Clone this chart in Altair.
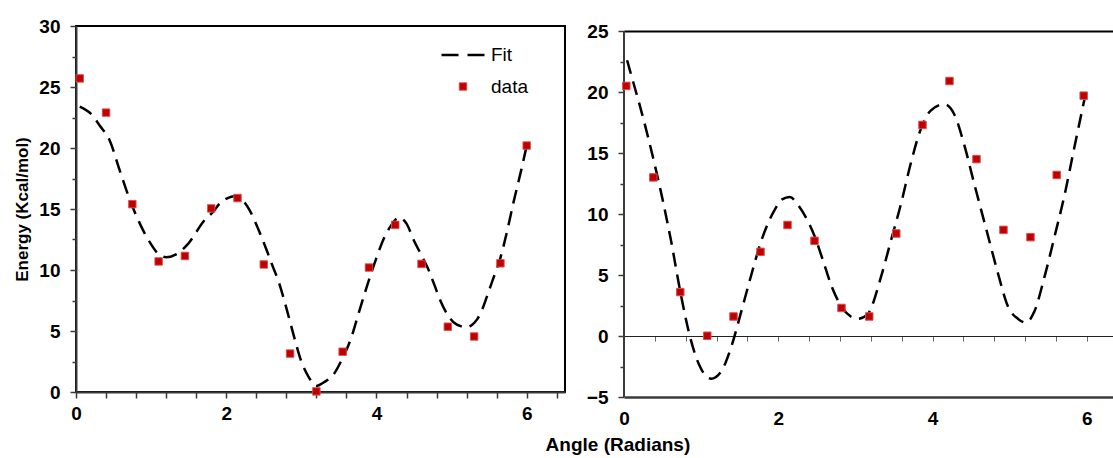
import altair as alt
import pandas as pd

# ---------------- data ----------------
angles_left = [0.05, 0.40, 0.75, 1.10, 1.45, 1.80, 2.15, 2.50, 2.85, 3.20, 3.55, 3.90, 4.25, 4.60, 4.95, 5.30, 5.65, 6.00]
energy_left = [25.7, 22.9, 15.4, 10.7, 11.15, 15.05, 15.9, 10.45, 3.15, 0.05, 3.3, 10.2, 13.7, 10.5, 5.35, 4.55, 10.55, 20.2]

fit_left_x = [0.05, 0.2, 0.32, 0.45, 0.58, 0.72, 0.85, 0.98, 1.1, 1.2, 1.34, 1.5, 1.7, 1.83, 1.92, 2.02, 2.1, 2.22, 2.32, 2.43,
              2.54, 2.6, 2.7, 2.8, 2.9, 3.0, 3.1, 3.2, 3.3, 3.43, 3.55, 3.65, 3.77, 3.88, 4.0, 4.1, 4.2, 4.3, 4.4, 4.5,
              4.6, 4.68, 4.77, 4.85, 4.95, 5.03, 5.12, 5.19, 5.27, 5.34, 5.41, 5.48, 5.56, 5.65, 5.74, 5.83, 5.92, 6.0]
fit_left_y = [23.4, 22.8, 21.8, 20.6, 18.2, 15.7, 13.8, 12.3, 11.3, 11.05, 11.3, 12.2, 14.0, 14.8, 15.5, 15.9, 16.05, 15.7, 14.8, 13.3,
              11.6, 10.6, 9.0, 6.9, 4.6, 2.5, 1.2, 0.5, 0.8, 1.45, 2.8, 4.2, 6.6, 8.8, 11.0, 12.6, 13.7, 14.3, 13.8, 12.4,
              11.2, 10.2, 8.8, 7.5, 6.3, 5.7, 5.4, 5.3, 5.5, 5.95, 6.8, 8.0, 9.4, 11.0, 13.2, 15.7, 18.0, 20.2]

angles_right = [0.03, 0.38, 0.73, 1.08, 1.42, 1.77, 2.12, 2.47, 2.82, 3.18, 3.53, 3.87, 4.22, 4.57, 4.92, 5.27, 5.61, 5.96]
energy_right = [20.5, 13.0, 3.6, 0.02, 1.6, 6.9, 9.1, 7.8, 2.3, 1.6, 8.4, 17.3, 20.9, 14.5, 8.7, 8.1, 13.2, 19.7]

fit_right_x = [0.04, 0.12, 0.2, 0.3, 0.4, 0.5, 0.61, 0.74, 0.87, 1.0, 1.13, 1.26, 1.39, 1.52, 1.65, 1.78, 1.95, 2.05, 2.15, 2.25,
               2.36, 2.47, 2.58, 2.69, 2.82, 2.94, 3.03, 3.16, 3.33, 3.46, 3.59, 3.72, 3.85, 3.98, 4.15, 4.28, 4.41, 4.54, 4.72, 4.85,
               4.98, 5.11, 5.21, 5.32, 5.45, 5.58, 5.71, 5.84, 5.97]
fit_right_y = [22.6, 20.8, 19.0, 16.6, 14.0, 11.2, 7.8, 3.3, -0.4, -2.7, -3.5, -2.9, -0.9, 2.0, 5.0, 7.8, 10.3, 11.2, 11.4, 10.8,
               9.7, 8.2, 6.2, 4.1, 2.4, 1.6, 1.4, 1.8, 4.8, 7.8, 10.8, 14.2, 17.0, 18.5, 19.0, 18.2, 15.7, 12.5, 8.2, 5.1,
               2.4, 1.4, 1.1, 2.0, 4.8, 8.1, 11.5, 15.5, 19.4]

series_names = ["Fit", "data"]
x_major = [0, 2, 4, 6]
x_minor_left = [0.4, 0.8, 1.2, 1.6, 2.4, 2.8, 3.2, 3.6, 4.4, 4.8, 5.2, 5.6, 6.4]
x_ticks_zero = [0.4, 0.8, 1.2, 1.6, 2, 2.4, 2.8, 3.2, 3.6, 4, 4.4, 4.8, 5.2, 5.6, 6]
y_major_left = [0, 5, 10, 15, 20, 25, 30]
y_minor_left = [2.5, 7.5, 12.5, 17.5, 22.5, 27.5]
y_major_right = [-5, 0, 5, 10, 15, 20, 25]
y_minor_right = [-2.5, 2.5, 7.5, 12.5, 17.5, 22.5]
y_range_right = [-5, 25]

FONT = "Liberation Sans"
RED = "#c00000"
AX = "#3a3a3a"

df_pl = pd.DataFrame({"angle": angles_left, "energy": energy_left, "series": "data"})
df_fl = pd.DataFrame({"angle": fit_left_x, "energy": fit_left_y})
df_pr = pd.DataFrame({"angle": angles_right, "energy": energy_right, "series": "data"})
df_fr = pd.DataFrame({"angle": fit_right_x, "energy": fit_right_y})

W, H = 489, 366
xs_left = alt.Scale(domain=[0, 6.51], nice=False, zero=False)
ys_left = alt.Scale(domain=[0, 30], nice=False)
xs_right = alt.Scale(domain=[0, 6.34], nice=False, zero=False)
ys_right = alt.Scale(domain=[-5, 25.41], nice=False)

lab = dict(labelFont=FONT, labelFontWeight="bold", labelFontSize=19, labelColor="black", labelOverlap=False, labelFlush=False)

legend = alt.Legend(title=None, orient="none", legendX=364, legendY=6, labelFont=FONT, labelFontSize=19,
                    labelColor="black", labelOffset=5, rowPadding=12, padding=0, symbolOpacity=1)

def sc(rng):
    return alt.Scale(domain=series_names, range=rng)

def minor_axis(orient, values, size=4):
    return alt.Axis(orient=orient, values=values, labels=False, tickSize=size, tickColor=AX, tickWidth=1.5,
                    domain=False, title=None, grid=False)

# ---------------- left panel ----------------
left_points = alt.Chart(df_pl).mark_point(filled=True, opacity=1).encode(
    x=alt.X("angle:Q", scale=xs_left, axis=alt.Axis(orient="bottom", values=x_major, tickSize=6, tickColor=AX,
            tickWidth=1.5, domainColor=AX, domainWidth=2, labelPadding=6, title=None, grid=False, **lab)),
    y=alt.Y("energy:Q", scale=ys_left, axis=alt.Axis(orient="left", values=y_major_left, tickSize=6, tickColor=AX,
            tickWidth=1.5, domainColor=AX, domainWidth=2, labelPadding=10, grid=False,
            title="Energy (Kcal/mol)", titleFont=FONT, titleFontWeight="bold", titleFontSize=17,
            titleColor="black", titlePadding=7, **lab)),
    fill=alt.Fill("series:N", scale=sc(["transparent", RED]), legend=legend),
    stroke=alt.Stroke("series:N", scale=sc(["black", "#d85050"]), legend=legend),
    shape=alt.Shape("series:N", scale=sc(["stroke", "square"]), legend=legend),
    size=alt.Size("series:N", scale=sc([1849, 56]), legend=legend),
    strokeDash=alt.StrokeDash("series:N", scale=sc([[17, 9], [1, 0]]), legend=legend),
    strokeWidth=alt.StrokeWidth("series:N", scale=sc([2.7, 1]), legend=legend),
)

left_line = alt.Chart(df_fl).mark_line(color="black", strokeWidth=2.5, strokeDash=[14, 8], interpolate="monotone").encode(
    x=alt.X("angle:Q", scale=xs_left, axis=minor_axis("bottom", x_minor_left, 6)),
    y=alt.Y("energy:Q", scale=ys_left, axis=minor_axis("left", y_minor_left, 4)),
)

left = alt.layer(left_line, left_points).resolve_axis(x="independent", y="independent").properties(
    width=W, height=H, view=alt.ViewBackground(stroke="black", strokeWidth=2)
)

# ---------------- right panel ----------------
right_points = alt.Chart(df_pr).mark_point(filled=True, opacity=1, shape="square", size=56,
                                            fill=RED, stroke="#d85050", strokeWidth=1).encode(
    x=alt.X("angle:Q", scale=xs_right, axis=alt.Axis(orient="bottom", values=x_major, ticks=False,
            domainColor=AX, domainWidth=2.5, labelPadding=12, title=None, grid=False, **lab)),
    y=alt.Y("energy:Q", scale=ys_right, axis=alt.Axis(orient="left", values=y_major_right, tickSize=6, tickColor=AX,
            tickWidth=1.5, domain=False, labelPadding=10, grid=False, title=None, **lab)),
)

right_line = alt.Chart(df_fr).mark_line(color="black", strokeWidth=2.5, strokeDash=[14, 8], interpolate="monotone").encode(
    x=alt.X("angle:Q", scale=xs_right, axis=alt.Axis(orient="bottom", offset=-61, values=x_ticks_zero, labels=False,
            tickSize=5, tickColor="#666666", tickWidth=1, domainColor="#222222", domainWidth=1, title=None, grid=False)),
    y=alt.Y("energy:Q", scale=ys_right, axis=minor_axis("left", y_minor_right, 4)),
)

right_frame = alt.Chart(df_fr).mark_line(opacity=0).encode(
    x=alt.X("angle:Q", scale=xs_right, axis=alt.Axis(orient="top", offset=-5, labels=False, ticks=False,
            domainColor="black", domainWidth=2, title=None, grid=False)),
    y=alt.Y("energy:Q", scale=ys_right, axis=None),
)

right_yline = alt.Chart(df_fr).mark_rule(color=AX, strokeWidth=2).encode(
    x=alt.XDatum(0, type="quantitative", scale=xs_right, axis=None),
    y=alt.YDatum(y_range_right[0], type="quantitative", scale=ys_right, axis=None),
    y2=alt.Y2Datum(y_range_right[1]),
)

right = alt.layer(right_frame, right_line, right_yline, right_points).resolve_axis(
    x="independent", y="independent").properties(
    width=W, height=371, view=alt.ViewBackground(stroke=None)
)

chart = alt.hconcat(left, right, spacing=20).properties(
    padding={"left": 12, "top": 16, "right": 0, "bottom": 0},
    title=alt.TitleParams("Angle (Radians)", orient="bottom", anchor="middle", dx=55, offset=8,
                          font=FONT, fontWeight="bold", fontSize=19, color="black"),
).configure(background="white")

chart.save("out.html", embed_options={"renderer": "svg", "actions": False})
